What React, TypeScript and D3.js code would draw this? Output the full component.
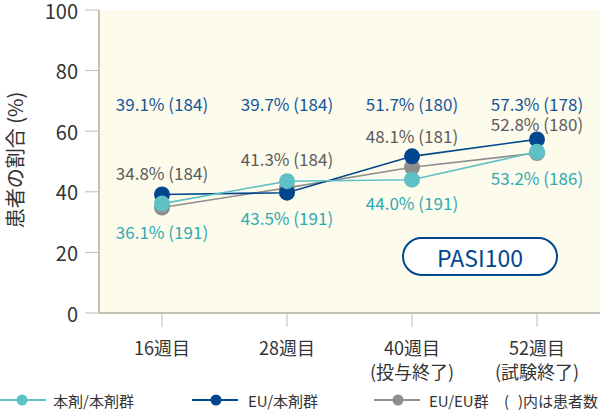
import React from "react";
import * as d3 from "d3";

const categories = ["16週目", "28週目", "40週目", "52週目"];
const categorySub = ["", "", "(投与終了)", "(試験終了)"];
const seriesNames = ["本剤/本剤群", "EU/本剤群", "EU/EU群"];
const tealValues = [36.1, 43.5, 44.0, 53.2];
const tealN = [191, 191, 191, 186];
const blueValues = [39.1, 39.7, 51.7, 57.3];
const blueN = [184, 184, 180, 178];
const grayValues = [34.8, 41.3, 48.1, 52.8];
const grayN = [184, 184, 181, 180];
const yTicks = [0, 20, 40, 60, 80, 100];

const W = 600, H = 414;
const FONT = "'Noto Sans CJK JP', 'Noto Sans', sans-serif";
const TEAL = "#5fc0c6";
const TEAL_TEXT = "#2eaab3";
const BLUE = "#00478d";
const BLUE_TEXT = "#15569a";
const GRAY = "#8e8e8e";
const GRAY_TEXT = "#5c5c5c";

// label offsets (layout only)
const grayDy = [-35, -29, -32, -30];
const tealDy = [28, 36, 23, 26];
const blueRowY = 103;

export default function App() {
  const x = d3.scalePoint<string>().domain(categories).range([162, 537]);
  const y = d3.scaleLinear().domain([0, 100]).range([313, 10]);
  const plotL = 99, plotR = 600, plotT = 10, plotB = 313;

  const line = d3
    .line<number>()
    .x((_, i) => x(categories[i])!)
    .y((d) => y(d));

  const fmt = (v: number, n: number) => `${v.toFixed(1)}% (${n})`;

  const series = [
    { vals: grayValues, color: GRAY },
    { vals: blueValues, color: BLUE },
    { vals: tealValues, color: TEAL },
  ];

  const legend = [
    { name: seriesNames[0], color: TEAL, lx: 0, cx: 22, tx: 53 },
    { name: seriesNames[1], color: BLUE, lx: 192, cx: 216, tx: 248 },
    { name: seriesNames[2], color: GRAY, lx: 374, cx: 398, tx: 429 },
  ];

  return (
    <svg width={W} height={H} style={{ position: "absolute", left: 0, top: 0, background: "#fff" }} fontFamily={FONT}>
      <rect x={plotL} y={plotT} width={plotR - plotL} height={plotB - plotT} fill="#fdfbec" />
      {/* y ticks */}
      {yTicks.map((t) => (
        <g key={t}>
          <line x1={85} x2={plotL} y1={y(t)} y2={y(t)} stroke="#bdbdbd" strokeWidth={1} />
          <text x={78} y={y(t)} textAnchor="end" dominantBaseline="central" fontSize={20} fill="#333">
            {t}
          </text>
        </g>
      ))}
      <line x1={plotL} x2={plotL} y1={plotT} y2={plotB} stroke="#c4c1b5" strokeWidth={2} />
      <line x1={plotL} x2={plotR} y1={plotB} y2={plotB} stroke="#c4c1b5" strokeWidth={2} />
      {/* x ticks */}
      {categories.map((c, i) => (
        <g key={c}>
          <line x1={x(c)!} x2={x(c)!} y1={plotB} y2={327} stroke="#bdbdbd" strokeWidth={1} />
          <text x={x(c)!} y={347} textAnchor="middle" dominantBaseline="central" fontSize={18} fill="#333">
            {c}
          </text>
          {categorySub[i] && (
            <text x={x(c)!} y={371} textAnchor="middle" dominantBaseline="central" fontSize={18} fill="#333">
              {categorySub[i]}
            </text>
          )}
        </g>
      ))}
      {/* y title */}
      <text
        transform={`translate(14,160) rotate(-90)`}
        textAnchor="middle"
        dominantBaseline="central"
        fontSize={20}
        fill="#333"
      >
        患者の割合 (%)
      </text>
      {/* lines */}
      {series.map((s, k) => (
        <path key={k} d={line(s.vals)!} fill="none" stroke={s.color} strokeWidth={1.6} />
      ))}
      {series.map((s, k) =>
        s.vals.map((v, i) => (
          <circle key={`${k}-${i}`} cx={x(categories[i])!} cy={y(v)} r={8} fill={s.color} />
        ))
      )}
      {/* value labels */}
      {blueValues.map((v, i) => (
        <text key={`b${i}`} x={x(categories[i])!} y={blueRowY} textAnchor="middle" dominantBaseline="central" fontSize={17} fill={BLUE_TEXT}>
          {fmt(v, blueN[i])}
        </text>
      ))}
      {grayValues.map((v, i) => (
        <text key={`g${i}`} x={x(categories[i])!} y={y(v) + grayDy[i]} textAnchor="middle" dominantBaseline="central" fontSize={17} fill={GRAY_TEXT}>
          {fmt(v, grayN[i])}
        </text>
      ))}
      {tealValues.map((v, i) => (
        <text key={`t${i}`} x={x(categories[i])!} y={y(v) + tealDy[i]} textAnchor="middle" dominantBaseline="central" fontSize={17} fill={TEAL_TEXT}>
          {fmt(v, tealN[i])}
        </text>
      ))}
      {/* PASI100 box */}
      <rect x={403} y={238} width={154} height={37} rx={18.5} fill="#fff" stroke={BLUE} strokeWidth={2} />
      <text x={480} y={257} textAnchor="middle" dominantBaseline="central" fontSize={23} fill={BLUE}>
        PASI100
      </text>
      {/* legend */}
      {legend.map((l) => (
        <g key={l.name}>
          <line x1={l.lx} x2={l.lx + 46} y1={400} y2={400} stroke={l.color} strokeWidth={2} />
          <circle cx={l.cx} cy={400} r={5.5} fill={l.color} />
          <text x={l.tx} y={400} dominantBaseline="central" fontSize={15} fill="#333">
            {l.name}
          </text>
        </g>
      ))}
      <text x={504} y={400} dominantBaseline="central" fontSize={15} fill="#333">
        (
      </text>
      <text x={598} y={400} textAnchor="end" dominantBaseline="central" fontSize={15} fill="#333">
        )内は患者数
      </text>
    </svg>
  );
}
